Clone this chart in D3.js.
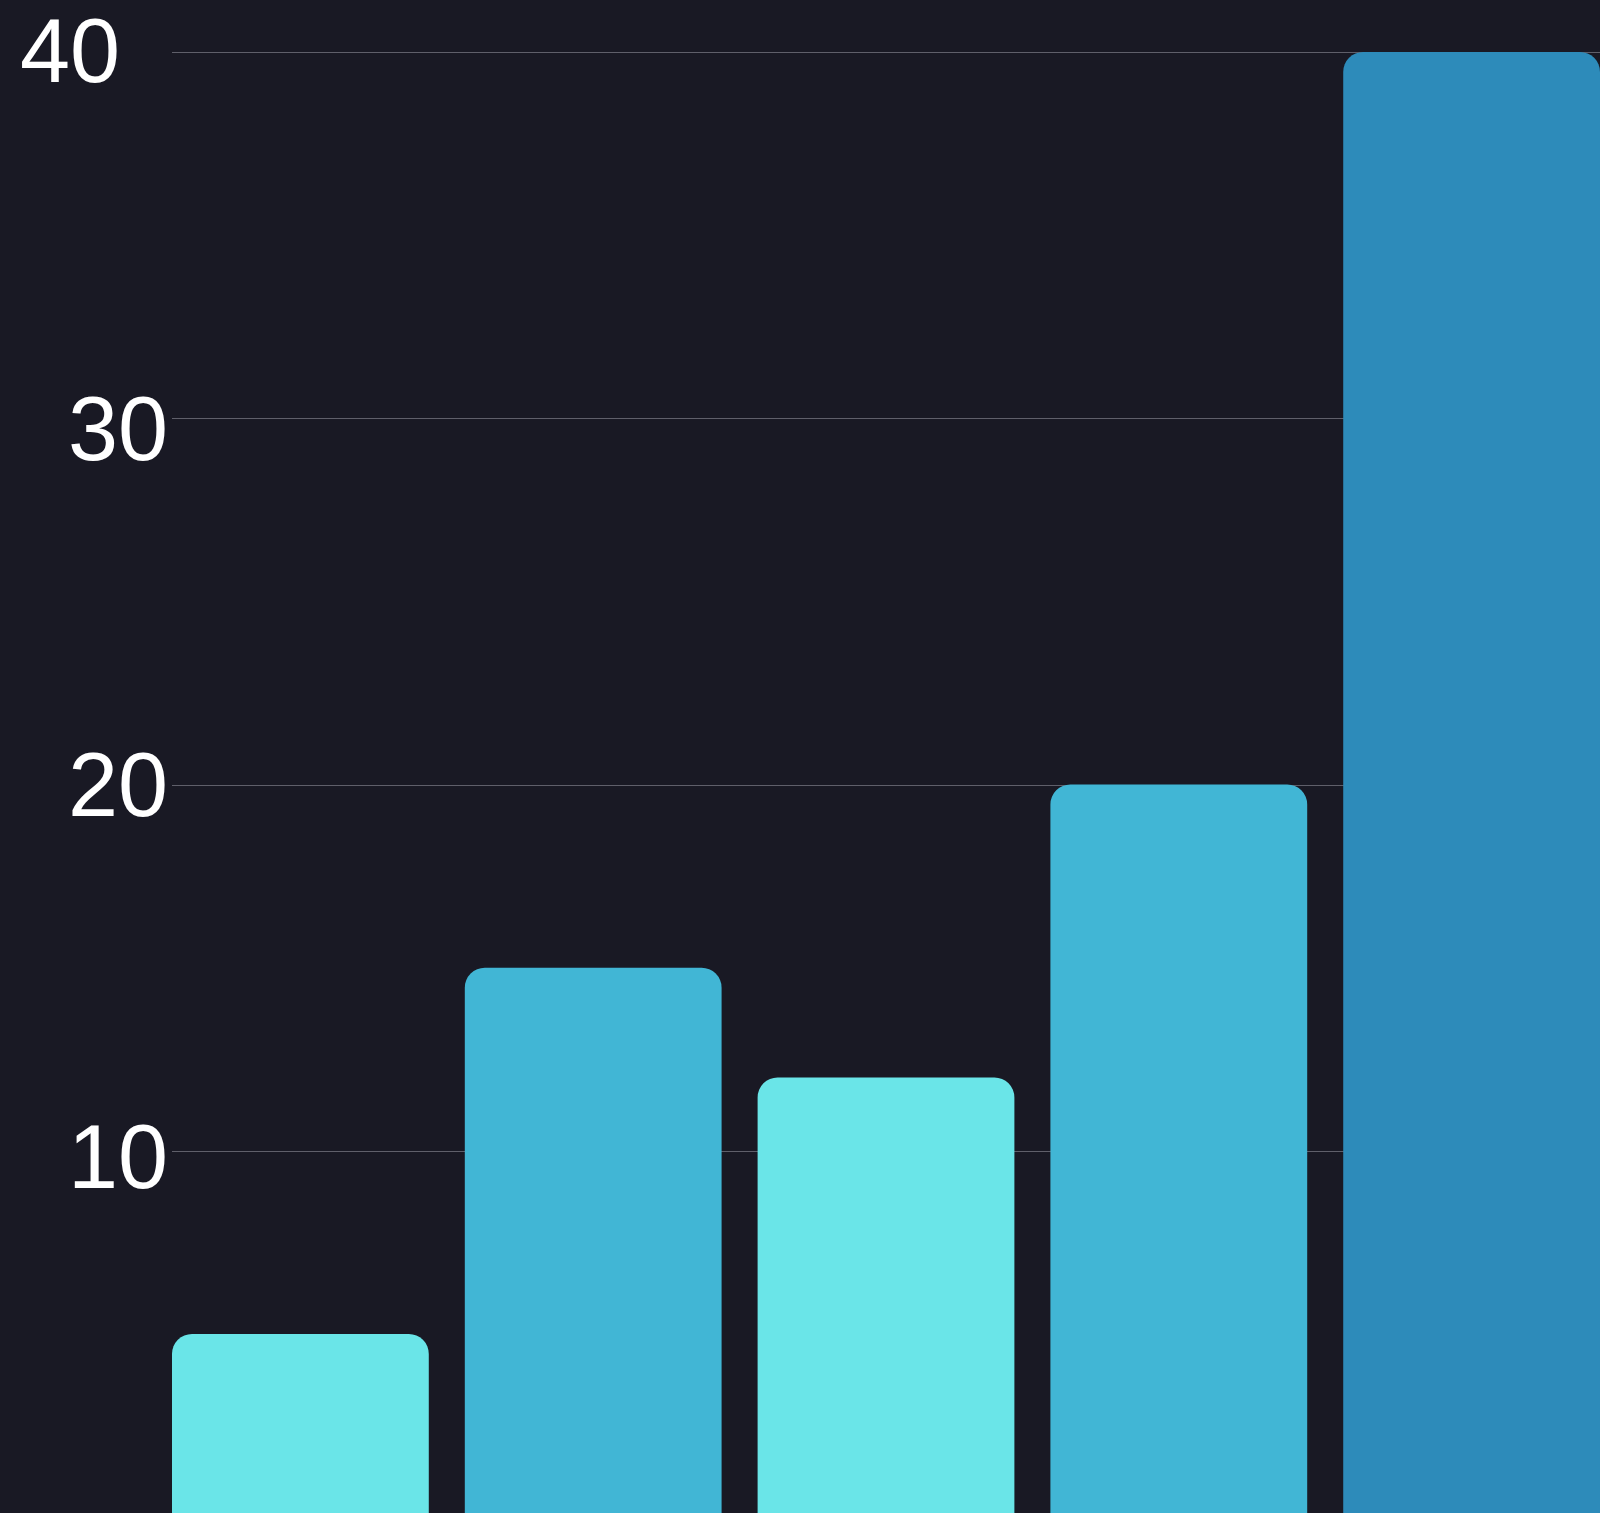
<!DOCTYPE html>
<html>
<head>
<meta charset="utf-8">
<script src="https://cdn.jsdelivr.net/npm/d3@7"></script>
<style>
  html, body { margin: 0; padding: 0; background: #191924; overflow: hidden; }
  svg { display: block; }
</style>
</head>
<body>
<script>
// Chart data
const categories = ["A", "B", "C", "D", "E"];
const values = [5, 15, 12, 20, 40];
const tickValues = [10, 20, 30, 40];
const tickLabels = ["10", "20", "30", "40"];

const W = 1600, H = 1513;

const svg = d3.select("body").append("svg")
  .attr("width", W)
  .attr("height", H);

svg.append("rect").attr("width", W).attr("height", H).attr("fill", "#191924");

const x = d3.scaleBand()
  .domain(categories)
  .range([172, 1600])
  .paddingInner(0.123)
  .paddingOuter(0);

const y = d3.scaleLinear()
  .domain([0, 40])
  .range([1517, 52]);

// Bar fill chosen by magnitude
const color = d3.scaleThreshold()
  .domain([13, 30])
  .range(["#6ae5e8", "#41b6d5", "#2d8bba"]);

// Horizontal grid lines
svg.append("g")
  .selectAll("line")
  .data(tickValues)
  .join("line")
  .attr("x1", 172)
  .attr("x2", W)
  .attr("y1", d => Math.round(y(d)) + 0.5)
  .attr("y2", d => Math.round(y(d)) + 0.5)
  .attr("stroke", "#5f5f6a")
  .attr("stroke-width", 1);

// Tick labels (small per-label nudges for the layout)
const labelShift = { 10: [0, 6], 20: [0, 0], 30: [0, 10], 40: [-48, -1.5] };
svg.append("g")
  .selectAll("text")
  .data(tickValues)
  .join("text")
  .attr("x", d => 168 + labelShift[d][0])
  .attr("y", d => y(d) + labelShift[d][1])
  .attr("dy", "0.35em")
  .attr("text-anchor", "end")
  .attr("fill", "#ffffff")
  .attr("font-family", "'Liberation Sans', Arial, sans-serif")
  .attr("font-size", 90)
  .text((d, i) => tickLabels[i]);

// Bars with rounded top corners
const r = 20;
function topRounded(x0, y0, w, y1) {
  return `M${x0},${y1}V${y0 + r}A${r},${r} 0 0 1 ${x0 + r},${y0}` +
         `H${x0 + w - r}A${r},${r} 0 0 1 ${x0 + w},${y0 + r}V${y1}Z`;
}

svg.append("g")
  .selectAll("path")
  .data(categories.map((c, i) => ({ c, v: values[i] })))
  .join("path")
  .attr("d", d => topRounded(x(d.c), y(d.v), x.bandwidth(), y(0)))
  .attr("fill", d => color(d.v));
</script>
</body>
</html>
